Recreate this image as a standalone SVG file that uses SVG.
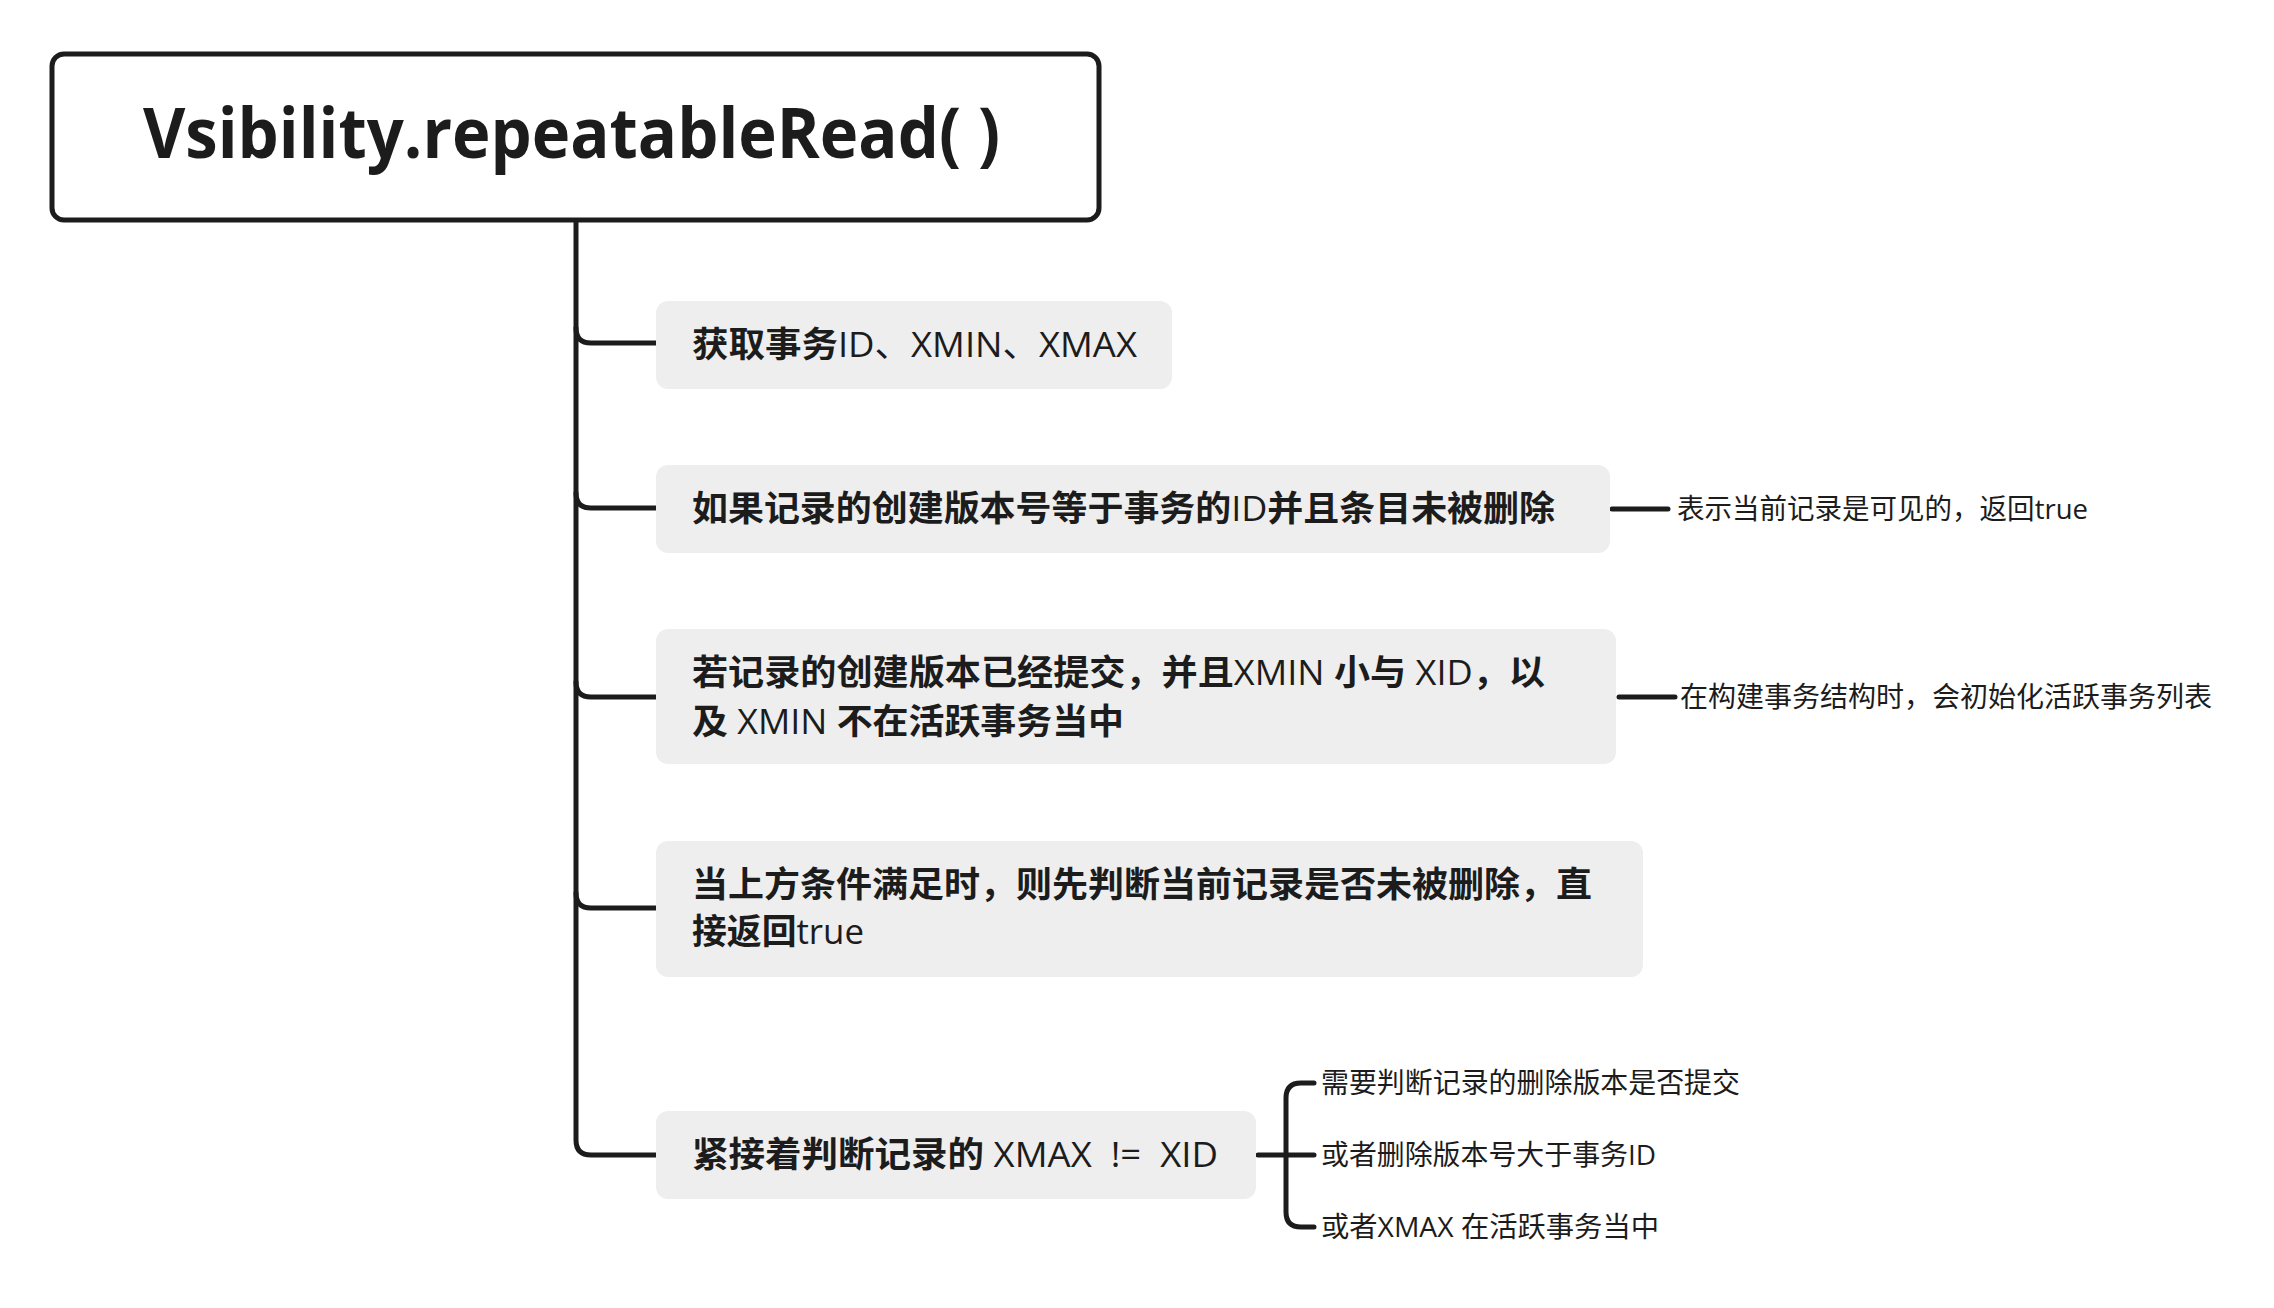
<svg xmlns="http://www.w3.org/2000/svg" width="2274" height="1308" viewBox="0 0 2274 1308">
<style>
text{font-family:"Open Sans","Noto Sans CJK SC","Noto Sans",sans-serif;fill:#1c1c1c;white-space:pre}
.title{font-size:70px;font-weight:700}
.nt{font-size:35px;font-weight:400}
.b{font-weight:700}
.lb{font-size:28px}
.node{fill:#eeeeee}
.conn{fill:none;stroke:#1c1c1c;stroke-width:5;stroke-linecap:round;stroke-linejoin:round}
</style>
<rect width="2274" height="1308" fill="#ffffff"/>
<g id="connectors">
<path class="conn" d="M576,222 V1140 Q576,1155 591,1155 H656"/>
<path class="conn" d="M576,328 Q576,343 591,343 H656"/>
<path class="conn" d="M576,493 Q576,508 591,508 H656"/>
<path class="conn" d="M576,682 Q576,697 591,697 H656"/>
<path class="conn" d="M576,893 Q576,908 591,908 H656"/>
<path class="conn" d="M1612,509 H1668"/>
<path class="conn" d="M1619,697 H1675"/>
<path class="conn" d="M1258,1155 H1314"/>
<path class="conn" d="M1314,1083 H1301 Q1286,1083 1286,1098 V1212 Q1286,1227 1301,1227 H1314"/>
</g>
<g id="root">
<rect x="52" y="54" width="1047" height="166" rx="12" fill="#ffffff" stroke="#1c1c1c" stroke-width="5"/>
<text class="title" x="143" y="158" textLength="857" lengthAdjust="spacingAndGlyphs">Vsibility.repeatableRead( )</text>
</g>
<g id="n1">
<rect class="node" x="656" y="301" width="516" height="88" rx="12"/>
<text class="nt" x="692" y="357" textLength="445" lengthAdjust="spacingAndGlyphs"><tspan class="b">获取事务</tspan>ID、XMIN、XMAX</text>
</g>
<g id="n2">
<rect class="node" x="656" y="465" width="954" height="88" rx="12"/>
<text class="nt" x="692" y="521" textLength="863" lengthAdjust="spacingAndGlyphs"><tspan class="b">如果记录的创建版本号等于事务的</tspan>ID<tspan class="b">并且条目未被删除</tspan></text>
</g>
<g id="n2l">
<text class="lb" x="1677" y="519" textLength="411" lengthAdjust="spacingAndGlyphs">表示当前记录是可见的，返回true</text>
</g>
<g id="n3">
<rect class="node" x="656" y="629" width="960" height="135" rx="12"/>
<text class="nt" x="692" y="685" textLength="853" lengthAdjust="spacingAndGlyphs"><tspan class="b">若记录的创建版本已经提交，并且</tspan>XMIN <tspan class="b">小与</tspan> XID<tspan class="b">，以</tspan></text>
<text class="nt" x="692" y="734" textLength="432" lengthAdjust="spacingAndGlyphs"><tspan class="b">及</tspan> XMIN <tspan class="b">不在活跃事务当中</tspan></text>
</g>
<g id="n3l">
<text class="lb" x="1680" y="707" textLength="532" lengthAdjust="spacingAndGlyphs">在构建事务结构时，会初始化活跃事务列表</text>
</g>
<g id="n4">
<rect class="node" x="656" y="841" width="987" height="136" rx="12"/>
<text class="nt b" x="692" y="897" textLength="900" lengthAdjust="spacingAndGlyphs">当上方条件满足时，则先判断当前记录是否未被删除，直</text>
<text class="nt" x="692" y="944" textLength="172" lengthAdjust="spacingAndGlyphs"><tspan class="b">接返回</tspan>true</text>
</g>
<g id="n5">
<rect class="node" x="656" y="1111" width="600" height="88" rx="12"/>
<text class="nt" x="692" y="1167" textLength="526" lengthAdjust="spacingAndGlyphs"><tspan class="b">紧接着判断记录的</tspan> XMAX  !=  XID</text>
</g>
<g id="n5a">
<text class="lb" x="1321" y="1093" textLength="419" lengthAdjust="spacingAndGlyphs">需要判断记录的删除版本是否提交</text>
</g>
<g id="n5b">
<text class="lb" x="1321" y="1165" textLength="335" lengthAdjust="spacingAndGlyphs">或者删除版本号大于事务ID</text>
</g>
<g id="n5c">
<text class="lb" x="1321" y="1237" textLength="338" lengthAdjust="spacingAndGlyphs">或者XMAX 在活跃事务当中</text>
</g>
</svg>
